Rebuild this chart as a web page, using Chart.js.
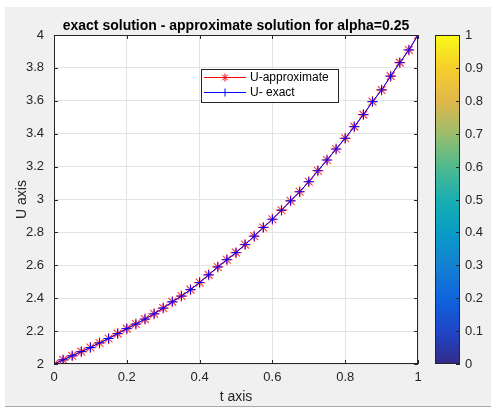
<!DOCTYPE html>
<html>
<head>
<meta charset="utf-8">
<script src="https://cdn.jsdelivr.net/npm/chart.js@4/dist/chart.umd.min.js"></script>
<style>
  html, body { margin: 0; padding: 0; background: #ffffff; }
  canvas { display: block; }
</style>
</head>
<body>
<canvas id="myChart" width="491" height="408"></canvas>
<script>
// values
var tValues = [0, 0.025, 0.05, 0.075, 0.1, 0.125, 0.15, 0.175, 0.2, 0.225,
               0.25, 0.275, 0.3, 0.325, 0.35, 0.375, 0.4, 0.425, 0.45, 0.475,
               0.5, 0.525, 0.55, 0.575, 0.6, 0.625, 0.65, 0.675, 0.7, 0.725,
               0.75, 0.775, 0.8, 0.825, 0.85, 0.875, 0.9, 0.925, 0.95, 0.975, 1];
var uApprox = [2.000, 2.025, 2.050, 2.075, 2.100, 2.128, 2.155, 2.185, 2.215, 2.243,
               2.273, 2.305, 2.340, 2.378, 2.413, 2.452, 2.495, 2.542, 2.590, 2.634,
               2.677, 2.726, 2.777, 2.830, 2.880, 2.935, 2.992, 3.047, 3.108, 3.175,
               3.240, 3.307, 3.372, 3.443, 3.516, 3.595, 3.666, 3.750, 3.832, 3.909, 4.000];
var uExact = [2.000, 2.025, 2.050, 2.075, 2.100, 2.128, 2.155, 2.185, 2.215, 2.243,
              2.273, 2.305, 2.340, 2.378, 2.413, 2.452, 2.495, 2.542, 2.590, 2.634,
              2.677, 2.726, 2.777, 2.830, 2.880, 2.935, 2.992, 3.047, 3.108, 3.175,
              3.240, 3.307, 3.372, 3.443, 3.516, 3.595, 3.666, 3.750, 3.832, 3.909, 4.000];
var xTicks = [0, 0.2, 0.4, 0.6, 0.8, 1];
var yTicks = [2, 2.2, 2.4, 2.6, 2.8, 3, 3.2, 3.4, 3.6, 3.8, 4];
var cbTicks = [0, 0.1, 0.2, 0.3, 0.4, 0.5, 0.6, 0.7, 0.8, 0.9, 1];
var cbColors = ['#352a87', '#1f45c8', '#0f64dc', '#1481d2', '#089cc6', '#19afb0',
                '#4fb98e', '#9cbd6c', '#e2b64a', '#f6cf2c', '#f9fb14'];
var titleText = 'exact solution - approximate solution for alpha=0.25';
var xLabel = 't axis';
var yLabel = 'U axis';

function pts(ys) {
  return tValues.map(function (t, i) { return { x: t, y: ys[i] }; });
}

var ink = '#262626';
var fam = '"Liberation Sans", Arial, sans-serif';
var tickFont = '13px ' + fam;

function markStroke(c, style, x, y, r) {
  c.beginPath();
  c.moveTo(x - r, y); c.lineTo(x + r, y);
  c.moveTo(x, y - r); c.lineTo(x, y + r);
  if (style === 'star') {
    var d = r * 0.7071;
    c.moveTo(x - d, y - d); c.lineTo(x + d, y + d);
    c.moveTo(x - d, y + d); c.lineTo(x + d, y - d);
  }
  c.stroke();
}

var matlabLook = {
  id: 'matlabLook',
  beforeDraw: function (chart) {
    var c = chart.ctx, a = chart.chartArea;
    c.save();
    c.fillStyle = '#ffffff';
    c.fillRect(0, 0, chart.width, chart.height);
    c.fillStyle = '#f0f0f0';
    c.fillRect(5, 7, chart.width - 5, 399);
    c.fillStyle = '#a8a8a8';
    c.fillRect(5, 406, chart.width - 5, 1);
    c.fillStyle = '#ffffff';
    c.fillRect(a.left, a.top, a.right - a.left, a.bottom - a.top);
    c.restore();
  },
  afterDraw: function (chart) {
    var c = chart.ctx, a = chart.chartArea;
    var xs = chart.scales.x, ys = chart.scales.y;
    c.save();

    // box and inward ticks
    c.strokeStyle = ink;
    c.lineWidth = 1;
    c.strokeRect(a.left + 0.5, a.top + 0.5, a.right - a.left - 1, a.bottom - a.top - 1);
    c.beginPath();
    xTicks.forEach(function (v) {
      var px = Math.round(xs.getPixelForValue(v)) + 0.5;
      c.moveTo(px, a.bottom); c.lineTo(px, a.bottom - 4);
      c.moveTo(px, a.top); c.lineTo(px, a.top + 4);
    });
    yTicks.forEach(function (v) {
      var py = Math.round(ys.getPixelForValue(v)) + 0.5;
      c.moveTo(a.left, py); c.lineTo(a.left + 4, py);
      c.moveTo(a.right, py); c.lineTo(a.right - 4, py);
    });
    c.stroke();

    // title and axis labels
    c.fillStyle = '#000000';
    c.textAlign = 'center';
    c.textBaseline = 'alphabetic';
    c.font = 'bold 14px ' + fam;
    c.fillText(titleText, (a.left + a.right) / 2, 30);
    c.fillStyle = ink;
    c.font = '14px ' + fam;
    c.fillText(xLabel, (a.left + a.right) / 2, 401);
    c.save();
    c.translate(26, (a.top + a.bottom) / 2);
    c.rotate(-Math.PI / 2);
    c.fillText(yLabel, 0, 0);
    c.restore();

    // legend box
    var lx = 201, ly = 69, lw = 137, lh = 33;
    c.fillStyle = '#ffffff';
    c.fillRect(lx, ly, lw, lh);
    c.strokeStyle = ink;
    c.strokeRect(lx + 0.5, ly + 0.5, lw, lh);
    c.font = '12px ' + fam;
    c.textAlign = 'left';
    c.textBaseline = 'middle';
    chart.data.datasets.forEach(function (ds, i) {
      var yy = ly + 8.5 + i * 15;
      c.strokeStyle = ds.borderColor;
      c.lineWidth = 1;
      c.beginPath(); c.moveTo(lx + 3, yy); c.lineTo(lx + 45, yy); c.stroke();
      markStroke(c, ds.pointStyle, lx + 24, yy, 4);
      c.fillStyle = '#000000';
      c.fillText(ds.label, lx + 49, yy + 0.5);
    });

    // colorbar
    var cx = 435, cw = 25;
    var g = c.createLinearGradient(0, a.bottom, 0, a.top);
    cbColors.forEach(function (col, i) { g.addColorStop(i / (cbColors.length - 1), col); });
    c.fillStyle = g;
    c.fillRect(cx, a.top, cw, a.bottom - a.top);
    c.strokeStyle = ink;
    c.lineWidth = 1;
    c.strokeRect(cx + 0.5, a.top + 0.5, cw - 1, a.bottom - a.top - 1);
    c.font = tickFont;
    c.fillStyle = ink;
    c.textAlign = 'left';
    c.textBaseline = 'middle';
    cbTicks.forEach(function (v) {
      var py = Math.round(a.bottom - v * (a.bottom - a.top)) + 0.5;
      c.beginPath(); c.moveTo(cx + cw - 4, py); c.lineTo(cx + cw, py); c.stroke();
      c.fillText(String(v), cx + cw + 5, py);
    });
    c.restore();
  }
};

var ctx = document.getElementById('myChart').getContext('2d');
var myChart = new Chart(ctx, {
  type: 'scatter',
  data: {
    datasets: [{
      label: 'U-approximate',
      data: pts(uApprox),
      showLine: true,
      borderColor: '#ff0000',
      backgroundColor: '#ff0000',
      borderWidth: 1,
      pointStyle: 'star',
      pointRadius: 5.5,
      pointBorderWidth: 1.2,
      pointBorderColor: '#ff4040',
      order: 1
    }, {
      label: 'U- exact',
      data: pts(uExact),
      showLine: true,
      borderColor: '#0000ff',
      backgroundColor: '#0000ff',
      borderWidth: 1,
      pointStyle: 'cross',
      pointRadius: 4.5,
      pointBorderWidth: 1,
      pointBorderColor: '#0000ff',
      order: 0
    }]
  },
  options: {
    responsive: false,
    animation: false,
    devicePixelRatio: 1,
    layout: { padding: { top: 35, right: 73, left: 0, bottom: 0 } },
    plugins: {
      legend: { display: false },
      title: { display: false },
      tooltip: { enabled: false }
    },
    scales: {
      x: {
        type: 'linear',
        min: 0,
        max: 1,
        afterBuildTicks: function (s) { s.ticks = xTicks.map(function (v) { return { value: v }; }); },
        afterFit: function (s) { s.height = 44; },
        grid: { color: '#e3e3e3', drawTicks: false },
        border: { display: false },
        ticks: {
          padding: 6,
          color: ink,
          maxRotation: 0,
          font: { family: fam, size: 13 },
          callback: function (v) { return String(v); }
        }
      },
      y: {
        type: 'linear',
        min: 2,
        max: 4,
        afterBuildTicks: function (s) { s.ticks = yTicks.map(function (v) { return { value: v }; }); },
        afterFit: function (s) { s.width = 54; },
        grid: { color: '#e3e3e3', drawTicks: false },
        border: { display: false },
        ticks: {
          padding: 10,
          color: ink,
          font: { family: fam, size: 13 },
          callback: function (v) { return String(v); }
        }
      }
    }
  },
  plugins: [matlabLook]
});
</script>
</body>
</html>
